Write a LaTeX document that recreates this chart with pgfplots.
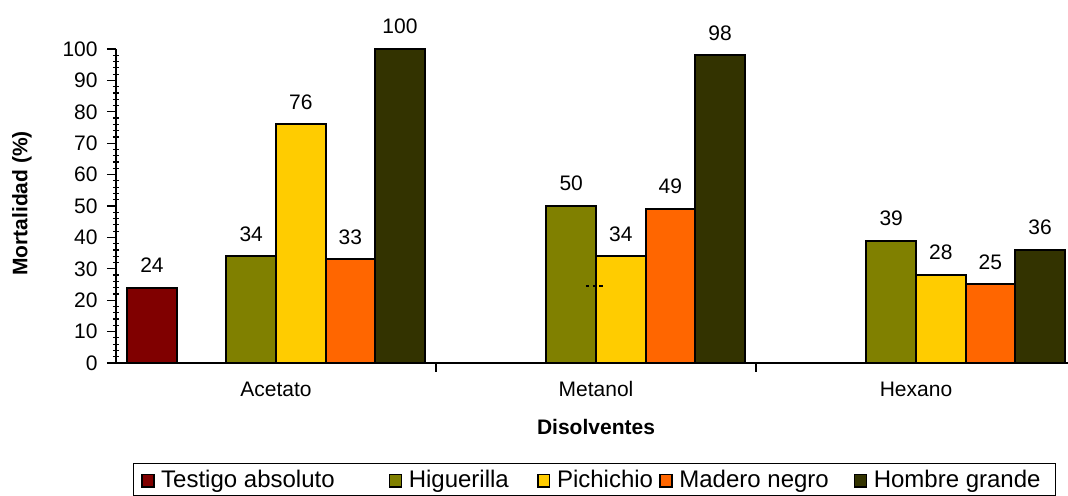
\documentclass[border=0pt]{standalone}
\usepackage{fontspec}
\setmainfont{Liberation Sans}
\usepackage{pgfplots}
\pgfplotsset{compat=1.18}

\definecolor{testigo}{HTML}{800000}
\definecolor{higuerilla}{HTML}{808000}
\definecolor{pichichio}{HTML}{FFCC00}
\definecolor{madero}{HTML}{FF6600}
\definecolor{hombre}{HTML}{333300}

\pgfplotsset{
  bars/.style={fill=#1, draw=black, line width=1pt,
    nodes near coords,
    nodes near coords style={font=\fontsize{10.5}{12}\selectfont, text=black, anchor=base, yshift=7.6pt}},
}

\begin{document}
\begin{tikzpicture}
\begin{axis}[
  name=ax,
  scale only axis, width=476pt, height=157pt,
  xmin=-0.5, xmax=2.475, ymin=0, ymax=100,
  axis x line*=bottom, axis y line*=left,
  axis line style={-, line width=0.6pt},
  ybar, bar width=0.155,
  legend image code/.code={
    \draw[#1, draw=black, line width=0.75pt] (0.375pt,0.3pt) rectangle (6.275pt,6.6pt);
    \path[draw=none, fill=none] (0pt,0pt) -- (10pt,0pt);},
  ytick distance=10, minor y tick num=4,
  tick align=outside, major tick length=4.5pt, minor tick length=3pt,
  tick style={black, line width=0.6pt},
  minor y tick style={xshift=1.5pt},
  xtick={0.5,1.5}, xticklabels={},
  extra x ticks={0,1,2}, extra x tick labels={Acetato,Metanol,Hexano},
  extra x tick style={major tick length=0pt},
  tick label style={font=\fontsize{10.5}{12}\selectfont},
  yticklabel style={anchor=east, inner sep=0pt, xshift=-4.5pt},
  xticklabel style={anchor=base, inner sep=0pt, yshift=-17pt},
  /pgf/number format/assume math mode=true,
  xlabel={\textbf{Disolventes}},
  ylabel={\textbf{Mortalidad (\%)}},
  label style={font=\fontsize{10.5}{12}\selectfont},
  xlabel style={at={(axis description cs:0.5042,-0.2293)}, anchor=base},
  ylabel style={at={(axis description cs:-0.0987,0.508)}, anchor=center},
  legend columns=5,
  legend style={at={(axis description cs:0.01754,-0.3175)}, anchor=north west,
    draw=black, line width=0.5pt, inner xsep=4pt, inner ysep=3.9pt,
    column sep=0pt, font=\fontsize{12}{14}\selectfont,
    nodes={inner sep=0pt, text height=8.4pt, text depth=0pt, anchor=base west}},
]
\addplot[bars=testigo, bar shift=-0.3875] coordinates {(0,24)};
\addlegendentry{\makebox[113.8pt][l]{Testigo absoluto}}
\addplot[bars=higuerilla, bar shift=-0.0775] coordinates {(0,34) (1,50) (2,39)};
\addlegendentry{\makebox[64.1pt][l]{Higuerilla}}
\addplot[bars=pichichio, bar shift=0.0775] coordinates {(0,76) (1,34) (2,28)};
\addlegendentry{\makebox[51.2pt][l]{Pichichio}}
\addplot[bars=madero, bar shift=0.2325] coordinates {(0,33) (1,49) (2,25)};
\addlegendentry{\makebox[87.2pt][l]{Madero negro}}
\addplot[bars=hombre, bar shift=0.3875] coordinates {(0,100) (1,98) (2,36)};
\addlegendentry{\makebox[87pt][l]{Hombre grande}}
% small dashed stroke left in the Metanol group of the original
\addplot[sharp plot, forget plot, black, line width=1pt, dash pattern=on 1.6pt off 1.8pt]
  coordinates {(0.968,24.5) (1.022,24.5)};
\end{axis}
\pgfresetboundingbox
\path[use as bounding box] ([xshift=-58pt,yshift=-66.5pt]ax.south west) rectangle ([yshift=24.5pt]ax.north east);
\end{tikzpicture}
\end{document}
